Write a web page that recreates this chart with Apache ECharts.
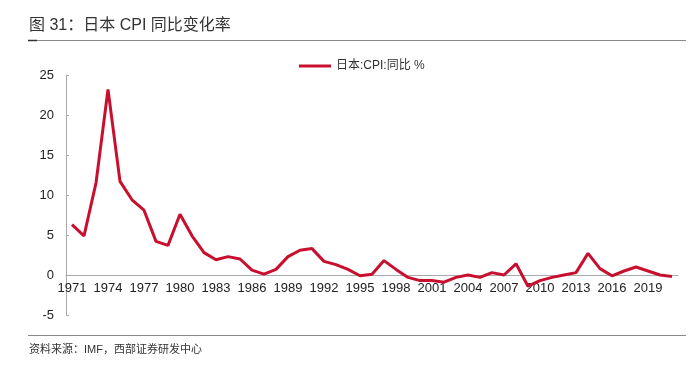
<!DOCTYPE html>
<html><head><meta charset="utf-8">
<script src="https://cdn.jsdelivr.net/npm/echarts@6/dist/echarts.min.js"></script>
<style>html,body{margin:0;padding:0;background:#fff;}#c{width:690px;height:372px;}</style>
</head><body><div id="c"></div>
<script>
var years = [];
for (var y = 1971; y <= 2021; y++) years.push(String(y));
var cpi = [6.3,4.9,11.5,23.2,11.7,9.4,8.1,4.2,3.7,7.6,
           4.9,2.8,1.9,2.3,2.0,0.6,0.1,0.7,2.3,3.1,
           3.3,1.7,1.3,0.7,-0.1,0.1,1.8,0.7,-0.3,-0.7,
           -0.7,-0.9,-0.3,0.0,-0.3,0.3,0.0,1.4,-1.4,-0.7,
           -0.3,0.0,0.3,2.7,0.8,-0.1,0.5,1.0,0.5,0.0,-0.2];
var yTicks = [-5,0,5,10,15,20,25];
var seriesName = '日本:CPI:同比 %';
var titleText = '图 31：日本 CPI 同比变化率';
var sourceText = '资料来源：IMF，西部证券研发中心';

var chart = echarts.init(document.getElementById('c'));
var cjk = '"Liberation Sans", "Noto Sans CJK SC", sans-serif';
chart.setOption({
  animation: false,
  backgroundColor: '#fff',
  textStyle: {fontFamily: cjk},
  graphic: [
    {type:'text', left: 29, top: 18, style:{text: titleText, font: '16px ' + cjk, fill:'#333'}},
    {type:'line', shape:{x1:28,y1:40.5,x2:686,y2:40.5}, style:{stroke:'#888', lineWidth:1}},
    {type:'line', shape:{x1:28,y1:40.5,x2:37,y2:40.5}, style:{stroke:'#333', lineWidth:1.5}},
    {type:'line', shape:{x1:28,y1:335.5,x2:686,y2:335.5}, style:{stroke:'#888', lineWidth:1}},
    {type:'text', left: 29, top: 344, style:{text: sourceText, font: '11px ' + cjk, fill:'#333'}}
  ],
  legend: {
    top: 55, left: 294,
    itemWidth: 32, itemHeight: 3, itemGap: 6,
    icon: 'rect',
    textStyle: {fontSize: 12, color: '#333', fontFamily: cjk},
    data: [seriesName]
  },
  grid: {left: 66, right: 12, top: 75, bottom: 57},
  xAxis: {
    type: 'category', data: years, boundaryGap: true,
    position: 'bottom', offset: -40,
    axisLine: {onZero: false, lineStyle: {color: '#aaa', width: 1}},
    axisTick: {inside: true, interval: 2, length: 4, lineStyle: {color: '#aaa'}},
    axisLabel: {interval: 2, fontSize: 13, color: '#222', margin: 7, fontFamily: '"Liberation Sans", sans-serif'}
  },
  yAxis: {
    type: 'value', min: -5, max: 25, interval: 5,
    axisLine: {show: true, lineStyle: {color: '#aaa'}},
    axisTick: {show: true, inside: true, length: 3, lineStyle: {color: '#aaa'}},
    splitLine: {show: false},
    axisLabel: {fontSize: 13, color: '#222', margin: 12, fontFamily: '"Liberation Sans", sans-serif'}
  },
  series: [{
    name: seriesName, type: 'line', data: cpi,
    symbol: 'none', smooth: false,
    lineStyle: {color: '#C8102E', width: 3},
    itemStyle: {color: '#C8102E'}
  }]
});
</script></body></html>
